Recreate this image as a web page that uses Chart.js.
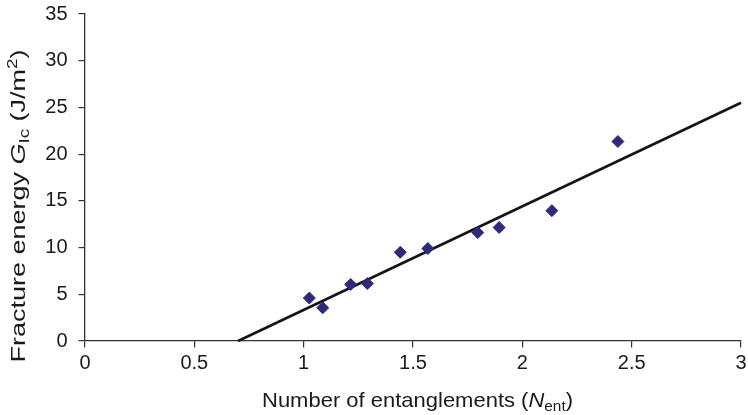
<!DOCTYPE html>
<html>
<head>
<meta charset="utf-8">
<script src="https://cdn.jsdelivr.net/npm/chart.js@4.4.1/dist/chart.umd.min.js"></script>
<style>
  html, body { margin: 0; padding: 0; background: #fff; }
  #wrap { width: 748px; height: 415px; }
</style>
</head>
<body>
<div id="wrap"><canvas id="myChart" width="748" height="415"></canvas></div>
<script>
// Datos
const nEnt = [1.026, 1.087, 1.215, 1.291, 1.442, 1.568, 1.796, 1.894, 2.135, 2.437]
const gIc = [4.6, 3.55, 6.05, 6.15, 9.5, 9.9, 11.6, 12.15, 13.95, 21.35]
const fitX = [0.7, 3]
const fitY = [0, 25.5]
const xTicks = [0, 0.5, 1, 1.5, 2, 2.5, 3]
const xTickLabels = ["0", "0.5", "1", "1.5", "2", "2.5", "3"]
const yTicks = [0, 5, 10, 15, 20, 25, 30, 35]
const yTickLabels = ["0", "5", "10", "15", "20", "25", "30", "35"]

const FONT = "'Liberation Sans', Arial, Helvetica, sans-serif"
const axisColor = "#333"

// segmentos del titulo: texto, italica, escala, desplazamiento vertical (em)
const xTitle = [
    { t: "Number of entanglements (", it: false, s: 1, dy: 0 },
    { t: "N", it: true, s: 1, dy: 0 },
    { t: "ent", it: false, s: 0.7, dy: 0.22 },
    { t: ")", it: false, s: 1, dy: 0 }
]
const yTitle = [
    { t: "Fracture energy ", it: false, s: 1, dy: 0 },
    { t: "G", it: true, s: 1, dy: 0 },
    { t: "Ic", it: false, s: 0.7, dy: 0.22 },
    { t: " (J/m", it: false, s: 1, dy: 0 },
    { t: "2", it: false, s: 0.7, dy: -0.38 },
    { t: ")", it: false, s: 1, dy: 0 }
]

function fuente(seg, size) {
    return (seg.it ? "italic " : "") + (size * seg.s) + "px " + FONT
}

function dibujarTitulo(ctx, segs, size, largo) {
    let w = 0
    for (const seg of segs) {
        ctx.font = fuente(seg, size)
        w += ctx.measureText(seg.t).width
    }
    ctx.scale(largo / w, 1)
    let x = -w / 2
    for (const seg of segs) {
        ctx.font = fuente(seg, size)
        ctx.fillText(seg.t, x, seg.dy * size)
        x += ctx.measureText(seg.t).width
    }
}

const titulos = {
    id: "titulos",
    afterDraw(chart) {
        const ctx = chart.ctx
        ctx.save()
        ctx.fillStyle = "#1a1a1a"
        ctx.textBaseline = "alphabetic"
        ctx.textAlign = "left"
        ctx.save()
        ctx.translate(417.5, 406.5)
        dibujarTitulo(ctx, xTitle, 21, 311)
        ctx.restore()
        ctx.save()
        ctx.translate(24.5, 206)
        ctx.rotate(-Math.PI / 2)
        dibujarTitulo(ctx, yTitle, 21, 313)
        ctx.restore()
        ctx.restore()
    }
}

function configurarEje(valores, etiquetas, alto, ancho) {
    return {
        type: "linear",
        min: valores[0],
        max: valores[valores.length - 1],
        afterBuildTicks: (scale) => { scale.ticks = valores.map(v => ({ value: v })) },
        afterFit: (scale) => {
            if (alto) scale.height = alto
            if (ancho) scale.width = ancho
            scale.paddingLeft = 0
            scale.paddingRight = 0
            scale.paddingTop = 0
            scale.paddingBottom = 0
        },
        grid: { drawOnChartArea: false, drawTicks: true, tickLength: 6.5, color: axisColor, lineWidth: 1.2 },
        border: { display: true, color: axisColor, width: 1.3 },
        ticks: {
            color: "#1a1a1a",
            font: { family: FONT, size: 20 },
            callback: (value, i) => etiquetas[i]
        }
    }
}

const xScale = configurarEje(xTicks, xTickLabels, 74, null)
xScale.ticks.padding = 4
xScale.ticks.maxRotation = 0
const yScale = configurarEje(yTicks, yTickLabels, null, 85)
yScale.ticks.padding = 11

const config = {
    type: "scatter",
    data: {
        datasets: [
            {
                label: "Gic",
                data: nEnt.map((x, i) => ({ x: x, y: gIc[i] })),
                pointStyle: "rectRot",
                pointRadius: 6,
                pointBackgroundColor: "#2d2a7c",
                pointBorderColor: "#2d2a7c",
                pointBorderWidth: 1,
                order: 1
            },
            {
                label: "ajuste",
                type: "line",
                data: fitX.map((x, i) => ({ x: x, y: fitY[i] })),
                borderColor: "#141414",
                borderWidth: 2.6,
                pointRadius: 0,
                fill: false,
                clip: false,
                order: 2
            }
        ]
    },
    options: {
        responsive: false,
        animation: false,
        layout: { padding: { left: 0, right: 7, top: 14, bottom: 0 } },
        plugins: { legend: { display: false }, tooltip: { enabled: false } },
        scales: { x: xScale, y: yScale }
    },
    plugins: [titulos]
}

const myChart = new Chart(document.querySelector("#myChart").getContext("2d"), config)
</script>
</body>
</html>
